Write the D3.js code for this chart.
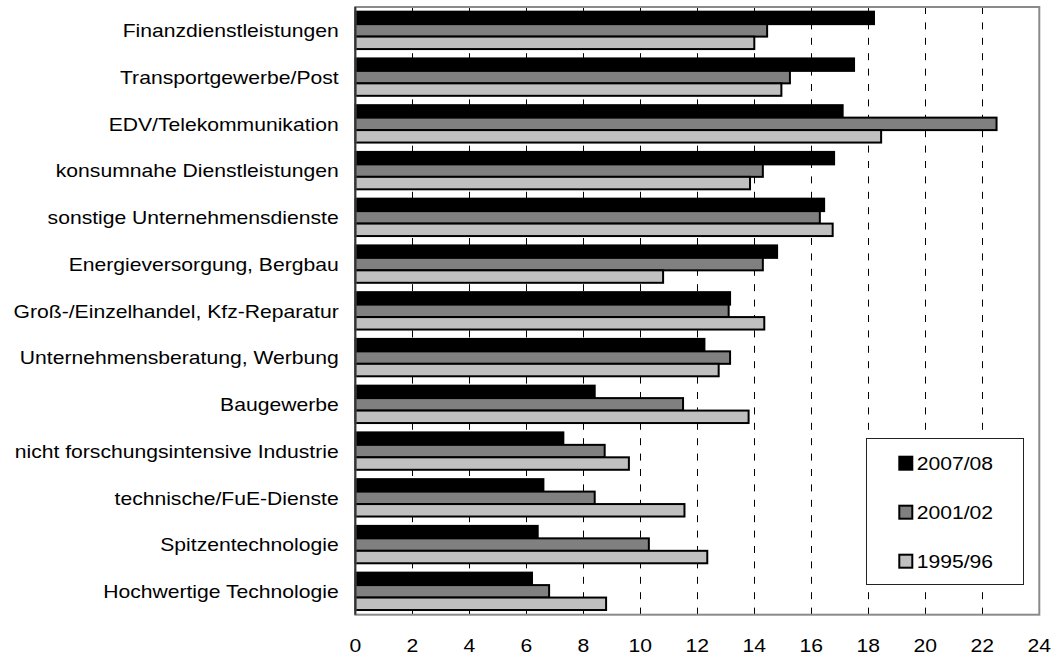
<!DOCTYPE html>
<html>
<head>
<meta charset="utf-8">
<script src="https://cdn.jsdelivr.net/npm/d3@7"></script>
<style>
  html, body { margin: 0; padding: 0; background: #fff; }
  svg { display: block; }
  text { font-family: "Liberation Sans", Arial, sans-serif; fill: #000; }
</style>
</head>
<body>
<svg id="chart" width="1054" height="656"></svg>
<script>
// Branches, top to bottom
const categories = [
  "Finanzdienstleistungen",
  "Transportgewerbe/Post",
  "EDV/Telekommunikation",
  "konsumnahe Dienstleistungen",
  "sonstige Unternehmensdienste",
  "Energieversorgung, Bergbau",
  "Groß-/Einzelhandel, Kfz-Reparatur",
  "Unternehmensberatung, Werbung",
  "Baugewerbe",
  "nicht forschungsintensive Industrie",
  "technische/FuE-Dienste",
  "Spitzentechnologie",
  "Hochwertige Technologie"
];

const seriesNames = ["2007/08", "2001/02", "1995/96"];

const values2007 = [18.2, 17.5, 17.1, 16.8, 16.45, 14.8, 13.15, 12.25, 8.4, 7.3, 6.6, 6.4, 6.2];
const values2001 = [14.45, 15.25, 22.5, 14.3, 16.3, 14.3, 13.1, 13.15, 11.5, 8.75, 8.4, 10.3, 6.8];
const values1995 = [14.0, 14.95, 18.45, 13.85, 16.75, 10.8, 14.35, 12.75, 13.8, 9.6, 11.55, 12.35, 8.8];

const xTicks = [0, 2, 4, 6, 8, 10, 12, 14, 16, 18, 20, 22, 24];

const seriesValues = [values2007, values2001, values1995];
const fills = ["#000000", "#808080", "#c0c0c0"];

// Text in this chart is slightly wide; stretch glyphs horizontally.
const SX = 1.13;
const FONT = 18.7;

const svg = d3.select("#chart");
const plot = { left: 355.3, right: 1039.3, top: 7, bottom: 614.7 };

const x = d3.scaleLinear().domain([0, 24]).range([plot.left, plot.right]);
const y = d3.scaleBand().domain(categories).range([plot.top, plot.bottom])
  .paddingInner(0.2).paddingOuter(0.1);
const ySub = d3.scaleBand().domain(seriesNames).range([0, y.bandwidth()]).padding(0);

// plot area background
svg.append("rect")
  .attr("x", plot.left).attr("y", plot.top)
  .attr("width", plot.right - plot.left).attr("height", plot.bottom - plot.top)
  .attr("fill", "#fff");

// dashed vertical gridlines
svg.append("g").selectAll("line")
  .data(xTicks.filter(t => t > 0 && t < 24))
  .join("line")
  .attr("x1", d => Math.round(x(d)) + 0.5).attr("x2", d => Math.round(x(d)) + 0.5)
  .attr("y1", plot.top).attr("y2", plot.bottom)
  .attr("stroke", "#000").attr("stroke-width", 1)
  .attr("stroke-dasharray", "7,8.4");

// bars
const groups = svg.append("g").selectAll("g")
  .data(categories)
  .join("g")
  .attr("transform", d => `translate(0,${y(d)})`);

groups.selectAll("rect")
  .data((c, i) => seriesNames.map((s, k) => ({ s, v: seriesValues[k][i], fill: fills[k] })))
  .join("rect")
  .attr("x", x(0))
  .attr("y", d => ySub(d.s))
  .attr("width", d => x(d.v) - x(0))
  .attr("height", ySub.bandwidth())
  .attr("fill", d => d.fill)
  .attr("stroke", "#000")
  .attr("stroke-width", 2);

// plot border
svg.append("rect")
  .attr("x", plot.left).attr("y", plot.top)
  .attr("width", plot.right - plot.left).attr("height", plot.bottom - plot.top)
  .attr("fill", "none").attr("stroke", "#8a8a8a").attr("stroke-width", 2);

// category axis line
svg.append("line")
  .attr("x1", plot.left).attr("x2", plot.left)
  .attr("y1", plot.top).attr("y2", plot.bottom)
  .attr("stroke", "#333").attr("stroke-width", 2);

// category labels
svg.append("g").selectAll("text")
  .data(categories)
  .join("text")
  .attr("transform", d => `translate(338.7,${y(d) + y.bandwidth() / 2 + 6.8}) scale(${SX},1)`)
  .attr("text-anchor", "end")
  .attr("font-size", FONT)
  .text(d => d);

// value axis labels
svg.append("g").selectAll("text")
  .data(xTicks)
  .join("text")
  .attr("transform", d => `translate(${x(d)},651.7) scale(${SX},1)`)
  .attr("text-anchor", "middle")
  .attr("font-size", FONT)
  .text(d => d);

// legend
const legend = svg.append("g");
legend.append("rect")
  .attr("x", 866.5).attr("y", 438.5).attr("width", 157).attr("height", 146)
  .attr("fill", "#fff").attr("stroke", "#222").attr("stroke-width", 1);

const legendRows = [470, 519, 568];
seriesNames.forEach((s, k) => {
  legend.append("rect")
    .attr("x", 899.3).attr("y", legendRows[k] - 13.3)
    .attr("width", 13).attr("height", 13)
    .attr("fill", fills[k]).attr("stroke", "#000").attr("stroke-width", 2);
  legend.append("text")
    .attr("transform", `translate(916.7,${legendRows[k]}) scale(${SX},1)`)
    .attr("font-size", FONT)
    .text(s);
});
</script>
</body>
</html>
